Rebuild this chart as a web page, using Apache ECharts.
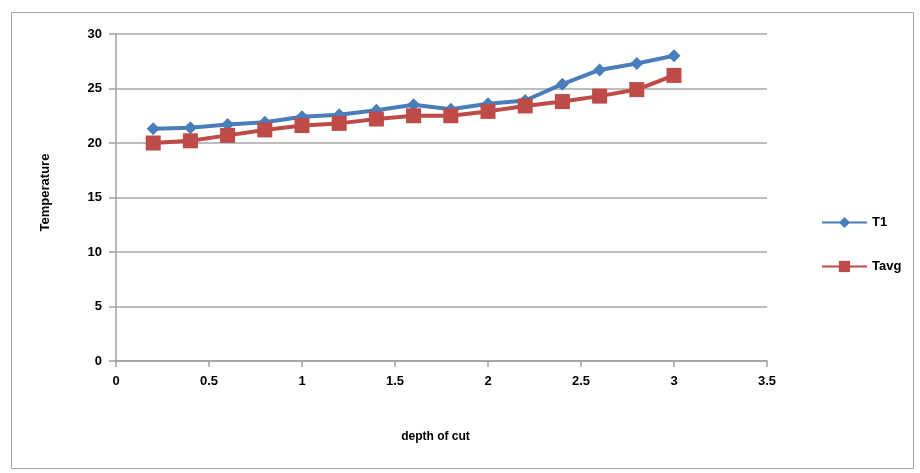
<!DOCTYPE html>
<html>
<head>
<meta charset="utf-8">
<script src="https://cdn.jsdelivr.net/npm/echarts@6/dist/echarts.min.js"></script>
<style>
html,body{margin:0;padding:0;background:#fff;}
#main{width:920px;height:473px;}
</style>
</head>
<body>
<div id="main"></div>
<script>
var depth = [0.2, 0.4, 0.6, 0.8, 1.0, 1.2, 1.4, 1.6, 1.8, 2.0, 2.2, 2.4, 2.6, 2.8, 3.0];
var T1 = [21.3, 21.4, 21.7, 21.9, 22.4, 22.6, 23.0, 23.5, 23.1, 23.6, 23.9, 25.4, 26.7, 27.3, 28.0];
var Tavg = [20.0, 20.2, 20.7, 21.2, 21.6, 21.8, 22.2, 22.5, 22.5, 22.9, 23.4, 23.8, 24.3, 24.9, 26.2];
var seriesNames = ['T1', 'Tavg'];

function pairs(xs, ys) { return xs.map(function (x, i) { return [x, ys[i]]; }); }

var chart = echarts.init(document.getElementById('main'), null, { renderer: 'canvas' });
var font = 'Liberation Sans';
chart.setOption({
  animation: false,
  backgroundColor: '#fff',
  graphic: [{
    type: 'rect', left: 9, top: 10, shape: { width: 902, height: 456 },
    style: { fill: 'none', stroke: '#a6a6a6', lineWidth: 1 }, silent: true
  }],
  grid: { left: 116, right: 153, top: 34, bottom: 112 },
  legend: {
    orient: 'vertical', left: 816, top: 211, itemGap: 31,
    itemWidth: 45, itemHeight: 14,
    textStyle: { fontFamily: font, fontWeight: 'bold', fontSize: 13, color: '#000' },
    data: seriesNames
  },
  xAxis: {
    type: 'value', min: 0, max: 3.5, interval: 0.5,
    name: 'depth of cut', nameLocation: 'middle', nameGap: 70,
    nameTextStyle: { fontFamily: font, fontWeight: 'bold', fontSize: 12, color: '#000', padding: [0, 12, 0, 0] },
    axisLine: { lineStyle: { color: '#a0a0a0', width: 1.5 } },
    axisTick: { show: true, length: 6, lineStyle: { color: '#a0a0a0', width: 1.5 } },
    axisLabel: { margin: 14, fontFamily: font, fontWeight: 'bold', fontSize: 13, color: '#000' },
    splitLine: { show: false }
  },
  yAxis: {
    type: 'value', min: 0, max: 30, interval: 5,
    name: 'Temperature', nameLocation: 'middle', nameGap: 64, nameRotate: 90,
    nameTextStyle: { fontFamily: font, fontWeight: 'bold', fontSize: 13, color: '#000', padding: [0, 0, 0, 10] },
    axisLine: { show: true, lineStyle: { color: '#a0a0a0', width: 1.5 } },
    axisTick: { show: true, length: 7, lineStyle: { color: '#a0a0a0', width: 1.5 } },
    axisLabel: { margin: 14, fontFamily: font, fontWeight: 'bold', fontSize: 13, color: '#000' },
    splitLine: { show: true, lineStyle: { color: '#a8a8a8', width: 1.5 } }
  },
  series: [{
    name: seriesNames[0], type: 'line', data: pairs(depth, T1),
    symbol: 'diamond', symbolSize: 13,
    lineStyle: { color: '#4a7ebb', width: 4 },
    itemStyle: { color: '#4a7ebb' }, z: 3
  }, {
    name: seriesNames[1], type: 'line', data: pairs(depth, Tavg),
    symbol: 'rect', symbolSize: 15,
    lineStyle: { color: '#be4b48', width: 4 },
    itemStyle: { color: '#be4b48' }, z: 4
  }]
});
</script>
</body>
</html>
